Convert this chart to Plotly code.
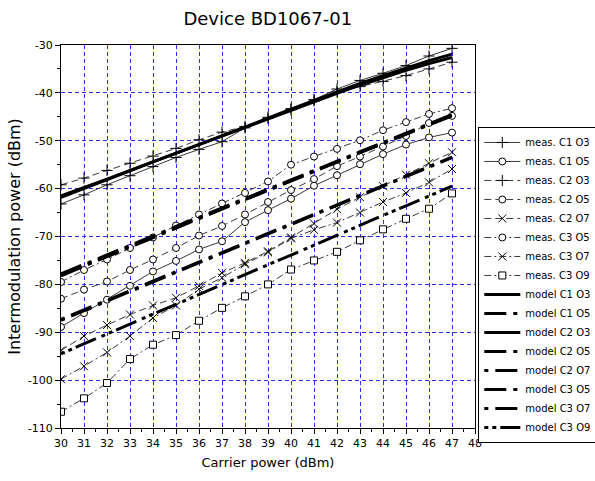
import plotly.graph_objects as go

# Carrier power sweep (dBm)
carrier_dbm = [30, 31, 32, 33, 34, 35, 36, 37, 38, 39, 40, 41, 42, 43, 44, 45, 46, 47]

x_tick_vals = [30, 31, 32, 33, 34, 35, 36, 37, 38, 39, 40, 41, 42, 43, 44, 45, 46, 47, 48]
y_tick_vals = [-110, -100, -90, -80, -70, -60, -50, -40, -30]
y_tick_text = ["-110", "-100", "-90", "-80", "-70", "-60", "-50", "-40", "-30"]

# Measured intermodulation power (dBm)
meas_c1_o3 = [-63.2, -61.3, -59.2, -57.3, -55.4, -53.5, -51.8, -50.2, -47.3, -45.1,
              -43.3, -41.4, -39.2, -37.4, -35.9, -34.3, -32.3, -30.7]
meas_c1_o5 = [-88.9, -86.0, -83.2, -80.3, -77.3, -75.1, -72.7, -71.0, -67.0, -64.5,
              -62.1, -59.4, -57.2, -54.9, -52.8, -50.8, -49.3, -48.3]
meas_c2_o3 = [-59.2, -57.8, -56.2, -54.7, -53.2, -51.6, -49.8, -48.2, -47.0, -45.3,
              -43.5, -41.7, -39.8, -38.7, -37.6, -36.4, -35.0, -33.6]
meas_c2_o5 = [-83.0, -81.1, -79.4, -77.0, -74.8, -72.4, -69.8, -67.8, -65.4, -62.8,
              -60.3, -58.0, -55.3, -53.3, -51.2, -49.0, -46.3, -44.8]
meas_c2_o7 = [-93.8, -90.8, -88.5, -86.3, -84.4, -82.8, -80.3, -77.6, -75.5, -73.1,
              -70.2, -67.3, -64.3, -61.8, -59.5, -57.1, -54.7, -52.4]
meas_c3_o5 = [-79.5, -77.0, -74.8, -72.4, -70.2, -67.7, -65.4, -63.1, -60.9, -58.5,
              -55.0, -53.3, -51.7, -49.9, -47.8, -46.1, -44.4, -43.2]
meas_c3_o7 = [-99.8, -97.1, -94.2, -90.8, -87.0, -84.4, -81.0, -78.6, -75.8, -73.3,
              -70.4, -68.6, -67.1, -65.0, -62.8, -60.9, -58.7, -55.9]
meas_c3_o9 = [-106.6, -103.8, -100.6, -95.6, -92.6, -90.6, -87.6, -84.9, -82.5, -80.0,
              -76.9, -75.0, -73.2, -70.8, -68.5, -66.3, -64.2, -61.0]

# Model predictions (dBm)
model_c1_o3 = [-61.8, -60.0, -58.2, -56.3, -54.4, -52.6, -50.7, -48.9, -47.1, -45.3,
               -43.4, -41.6, -39.8, -38.0, -36.4, -34.8, -33.3, -31.9]
model_c2_o3 = [-61.5, -59.8, -58.0, -56.2, -54.4, -52.6, -50.8, -49.0, -47.2, -45.4,
               -43.6, -41.8, -40.1, -38.4, -36.8, -35.3, -33.9, -32.6]
model_c1_o5 = [-78.2, -76.2, -74.2, -72.2, -70.2, -68.2, -66.2, -64.3, -62.3, -60.4,
               -58.4, -56.4, -54.5, -52.5, -50.6, -48.6, -46.7, -44.8]
model_c2_o5 = [-78.0, -76.0, -74.0, -72.0, -70.0, -68.1, -66.1, -64.2, -62.2, -60.3,
               -58.3, -56.3, -54.4, -52.4, -50.5, -48.5, -46.6, -44.7]
model_c3_o5 = [-77.8, -75.8, -73.8, -71.9, -69.9, -67.9, -66.0, -64.0, -62.1, -60.1,
               -58.2, -56.2, -54.3, -52.3, -50.4, -48.4, -46.5, -44.5]
model_c2_o7 = [-87.5, -85.5, -83.5, -81.5, -79.5, -77.5, -75.5, -73.5, -71.5, -69.5,
               -67.5, -65.5, -63.5, -61.5, -59.5, -57.5, -55.5, -53.5]
model_c3_o7 = [-87.3, -85.3, -83.3, -81.3, -79.3, -77.3, -75.3, -73.4, -71.4, -69.4,
               -67.4, -65.4, -63.4, -61.4, -59.4, -57.4, -55.4, -53.4]
model_c3_o9 = [-94.5, -92.4, -90.3, -88.3, -86.2, -84.2, -82.1, -80.0, -78.0, -75.9,
               -73.9, -71.8, -69.8, -67.7, -65.6, -63.6, -61.5, -59.5]

SOLID = "solid"
DASHED = "7px,4px"
DASHDOT = "7px,3px,2px,3px"
MODEL_O5 = "22px,7px,4px,7px"
MODEL_O7 = "4px,7px,22px,7px"
MODEL_O9 = "4px,4px,4px,4px,22px,6px"

measured = [
    ("meas. C1 O3", meas_c1_o3, SOLID, "cross-thin"),
    ("meas. C1 O5", meas_c1_o5, SOLID, "circle"),
    ("meas. C2 O3", meas_c2_o3, DASHED, "cross-thin"),
    ("meas. C2 O5", meas_c2_o5, DASHED, "circle"),
    ("meas. C2 O7", meas_c2_o7, DASHED, "x-thin"),
    ("meas. C3 O5", meas_c3_o5, DASHDOT, "circle"),
    ("meas. C3 O7", meas_c3_o7, DASHDOT, "x-thin"),
    ("meas. C3 O9", meas_c3_o9, DASHDOT, "square"),
]

models = [
    ("model C1 O3", model_c1_o3, SOLID),
    ("model C1 O5", model_c1_o5, MODEL_O5),
    ("model C2 O3", model_c2_o3, SOLID),
    ("model C2 O5", model_c2_o5, MODEL_O5),
    ("model C2 O7", model_c2_o7, MODEL_O7),
    ("model C3 O5", model_c3_o5, MODEL_O5),
    ("model C3 O7", model_c3_o7, MODEL_O7),
    ("model C3 O9", model_c3_o9, MODEL_O9),
]

fig = go.Figure()

for name, values, dash, symbol in measured:
    thin = symbol.endswith("-thin")
    fig.add_trace(go.Scatter(
        x=carrier_dbm, y=values, name=name, mode="lines+markers",
        line=dict(color="#3a3a3a", width=1, dash=dash),
        marker=dict(symbol=symbol, size=8 if thin else 7,
                    color="black" if thin else "white",
                    line=dict(color="black", width=1)),
    ))

for name, values, dash in models:
    fig.add_trace(go.Scatter(
        x=carrier_dbm, y=values, name=name, mode="lines",
        line=dict(color="black", width=3, dash=dash),
    ))

grid_style = dict(showgrid=True, gridcolor="#2d2dff", gridwidth=1, griddash="4px,3px")
axis_style = dict(showline=True, linecolor="black", linewidth=1, mirror=True,
                  ticks="outside", ticklen=5, tickcolor="black", zeroline=False,
                  tickfont=dict(family="DejaVu Sans", size=11, color="black"))

fig.update_layout(
    width=595, height=481,
    margin=dict(l=61, r=120, t=45, b=53, autoexpand=False),
    paper_bgcolor="white", plot_bgcolor="white",
    title=dict(text="Device BD1067-01", x=0.45, xanchor="center", y=0.962, yanchor="middle",
               font=dict(family="DejaVu Sans", size=18, color="black")),
    xaxis=dict(range=[30, 48], tickvals=x_tick_vals,
               title=dict(text="Carrier power (dBm)", standoff=8,
                          font=dict(family="DejaVu Sans", size=13, color="black")),
               minor=dict(dtick=0.5, ticks="outside", ticklen=3, tickcolor="black", showgrid=False),
               **grid_style, **axis_style),
    yaxis=dict(range=[-110, -30], tickvals=y_tick_vals, ticktext=y_tick_text,
               title=dict(text="Intermodulation power (dBm)", standoff=3,
                          font=dict(family="DejaVu Sans", size=16, color="black")),
               minor=dict(dtick=5, ticks="outside", ticklen=3, tickcolor="black", showgrid=False),
               **grid_style, **axis_style),
    legend=dict(x=1.008, xanchor="left", y=0.786, yanchor="top",
                bordercolor="black", borderwidth=1, bgcolor="white",
                itemwidth=36, tracegroupgap=0,
                font=dict(family="DejaVu Sans", size=10, color="black")),
    showlegend=True,
)

fig.write_html("out.html")
